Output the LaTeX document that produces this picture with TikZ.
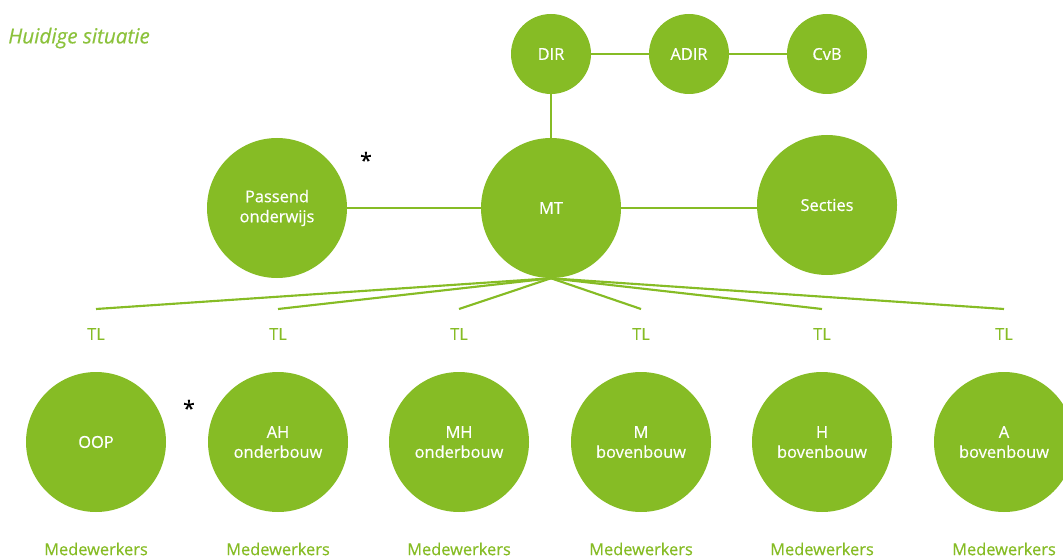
\documentclass[tikz,border=0pt]{standalone}
\usepackage{fontspec}
\setmainfont{Open Sans}[FakeBold=0.5]
\usepackage{xcolor}
\definecolor{orggreen}{RGB}{134,188,37}
\definecolor{titlegreen}{RGB}{140,194,60}

\tikzset{
  bigunit/.style={circle,fill=orggreen,draw=none,inner sep=0pt,minimum size=105pt,
    text=white,font=\fontsize{12.3}{15}\selectfont,align=center},
  smallunit/.style={circle,fill=orggreen,draw=none,inner sep=0pt,minimum size=60pt,
    text=white,font=\fontsize{12.3}{15}\selectfont},
  link/.style={color=orggreen,line width=1.6pt},
  greentext/.style={text=orggreen,inner sep=0.75pt,font=\fontsize{12.3}{15}\selectfont},
  star/.style={inner sep=0.75pt,font=\fontsize{16}{16}\selectfont}
}

\begin{document}
\begin{tikzpicture}[x=0.75pt,y=0.75pt,yscale=-1,xscale=1]
\useasboundingbox (0,0) rectangle (1063,556);

% Title
\node [anchor=west,inner sep=0pt,text=titlegreen,font=\fontsize{15.5}{17}\selectfont\itshape] (title) at (8,38) {Huidige situatie};

% Top row
\node [smallunit] (dir) at (551,54) {DIR};
\node [smallunit] (adir) at (689,54) {ADIR};
\node [smallunit] (cvb) at (827,54) {CvB};

% Middle row
\node [bigunit] (mt) at (551,208) {MT};
\node [bigunit] (po) at (277,208) {Passend\\onderwijs};
\node [bigunit] (secties) at (827,205) {Secties};
\node [star] (star1) at (366,160) {*};

% Lines top
\draw [link] (dir) -- (adir);
\draw [link] (adir) -- (cvb);
\draw [link] (dir) -- (mt);
\draw [link] (po.east) -- (mt.west);
\draw [link] (mt.east) -- (secties.west |- mt.east);

% Teams
\foreach \n/\x/\txt in {1/96/OOP,2/278/AH\\onderbouw,3/459/MH\\onderbouw,4/641/M\\bovenbouw,5/822/H\\bovenbouw,6/1004/A\\bovenbouw}{
  \coordinate (t\n) at (\x,309);
  \draw [link] (mt.south) -- (t\n);
  \node [greentext] (tl\n) at (\x,334) {TL};
  \node [bigunit] (team\n) at (\x,442) {\txt};
  \node [greentext] (mw\n) at (\x,549) {Medewerkers};
}
\node [star] (star2) at (189,408) {*};

\end{tikzpicture}
\end{document}
